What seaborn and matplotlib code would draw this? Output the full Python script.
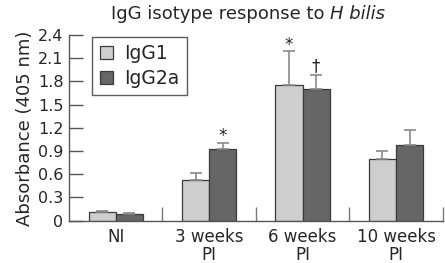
import matplotlib
matplotlib.use("Agg")
import matplotlib.pyplot as plt
import seaborn as sns
import pandas as pd
import numpy as np

categories = ["NI", "3 weeks\nPI", "6 weeks\nPI", "10 weeks\nPI"]
series = ["IgG1", "IgG2a"]
igg1 = [0.11, 0.52, 1.75, 0.80]
igg2a = [0.09, 0.93, 1.70, 0.98]
igg1_err = [0.01, 0.09, 0.44, 0.10]
igg2a_err = [0.005, 0.08, 0.18, 0.19]
igg1_marks = ["", "", "*", ""]
igg2a_marks = ["", "*", "\u2020", ""]
yticks = [0, 0.3, 0.6, 0.9, 1.2, 1.5, 1.8, 2.1, 2.4]
ytick_labels = ["0", "0.3", "0.6", "0.9", "1.2", "1.5", "1.8", "2.1", "2.4"]

sns.set_theme(style="ticks")
plt.rcParams["font.family"] = ["DejaVu Sans"]

df = pd.DataFrame({
    "cat": categories * 2,
    "series": [series[0]] * 4 + [series[1]] * 4,
    "value": igg1 + igg2a,
})

fig = plt.figure(figsize=(4.45, 2.63), dpi=100)
ax = fig.add_axes([0.155, 0.161, 0.84, 0.706])

palette = {"IgG1": "#cecece", "IgG2a": "#666666"}
sns.barplot(data=df, x="cat", y="value", hue="series", order=categories,
            hue_order=series, palette=palette, width=0.58, errorbar=None,
            edgecolor="#3a3a3a", linewidth=0.9, saturation=1, ax=ax)

errs = [igg1_err, igg2a_err]
marks = [igg1_marks, igg2a_marks]
bar_containers = list(ax.containers)
for si, cont in enumerate(bar_containers):
    for ci, bar in enumerate(cont.patches):
        xc = bar.get_x() + bar.get_width() / 2
        h = bar.get_height()
        e = errs[si][ci]
        ax.errorbar([xc], [h], yerr=[[0], [e]], fmt="none", ecolor="#8a8a8a",
                    elinewidth=1.2, capsize=4, capthick=1.2, zorder=1)
        if marks[si][ci]:
            off = -2 if marks[si][ci] == "*" else 0
            ax.annotate(marks[si][ci], (xc, h + e), xytext=(0, off),
                        textcoords="offset points", ha="center", va="bottom",
                        fontsize=12, color="#222222")

ax.set_xlim(-0.5, 3.5)
ax.set_ylim(0, 2.4)
ax.set_yticks(yticks)
ax.set_yticklabels(ytick_labels, fontsize=11.5)
ax.set_xticks(range(len(categories)))
ax.set_xticklabels(categories, fontsize=12, linespacing=1.0)
ax.set_xticks([0.5, 1.5, 2.5, 3.5], minor=True)
ax.tick_params(axis="x", which="major", length=0, pad=5)
ax.tick_params(axis="x", which="minor", direction="in", length=10, width=1, color="#777777")
ax.tick_params(axis="y", direction="in", length=10, width=1, color="#555555", pad=4)
ax.set_xlabel("")
ax.set_ylabel("Absorbance (405 nm)", fontsize=13, labelpad=3)
for s in ["top", "right"]:
    ax.spines[s].set_visible(False)
for s in ["left", "bottom"]:
    ax.spines[s].set_color("#555555")
    ax.spines[s].set_linewidth(1)

leg = ax.legend(loc="upper left", bbox_to_anchor=(0.062, 0.99), fontsize=13.5,
                frameon=True, fancybox=False, edgecolor="#333333",
                handlelength=0.7, handleheight=0.7, handletextpad=0.6,
                borderpad=0.4, labelspacing=0.3, borderaxespad=0)
leg.get_frame().set_linewidth(1)

# Title: regular part + italic part, centred as a whole
t1 = fig.text(0, 0.945, "IgG isotype response to ", ha="left", va="center", fontsize=13)
t2 = fig.text(0, 0.945, "H bilis", ha="left", va="center", fontsize=13, style="italic")
fig.canvas.draw()
r = fig.canvas.get_renderer()
w1 = t1.get_window_extent(r).width / fig.bbox.width
w2 = t2.get_window_extent(r).width / fig.bbox.width
x0 = 0.557 - (w1 + w2) / 2
t1.set_x(x0)
t2.set_x(x0 + w1)

fig.savefig("out.png", dpi=100)
